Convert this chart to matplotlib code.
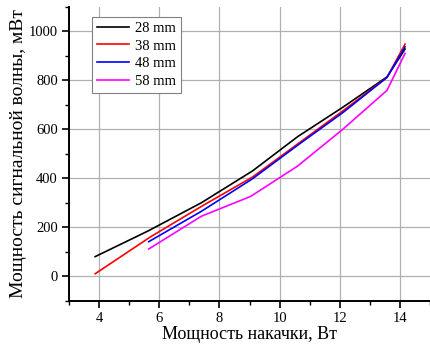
import matplotlib
matplotlib.use("Agg")
import matplotlib.pyplot as plt
from matplotlib.ticker import MultipleLocator

plt.rcParams['font.family'] = ['Liberation Serif', 'DejaVu Serif']
plt.rcParams['font.size'] = 10.5

# накачка, Вт и мощность сигнала, мВт
x28 = [3.87, 5.6, 7.4, 9.1, 10.6, 12.1, 13.57, 14.17]
y28 = [80, 183, 300, 430, 570, 690, 814, 928]

x38 = [3.87, 5.7, 7.4, 9.1, 10.6, 12.1, 13.57, 14.17]
y38 = [10, 160, 285, 405, 540, 675, 812, 948]

x48 = [5.65, 7.4, 9.1, 10.6, 12.1, 13.57, 14.17]
y48 = [141, 265, 398, 535, 668, 812, 937]

x58 = [5.65, 7.4, 9.04, 10.6, 12.1, 13.57, 14.17]
y58 = [111, 245, 326, 450, 600, 759, 910]

labels = ['28 mm', '38 mm', '48 mm', '58 mm']
colors = ['black', '#ff0000', '#0000ff', '#ff00ff']

fig = plt.figure(figsize=(4.3, 3.46), dpi=100)
ax = fig.add_axes([0.1605, 0.131, 0.8395, 0.849])

for xs, ys, lab, c in zip([x28, x38, x48, x58], [y28, y38, y48, y58], labels, colors):
    ax.plot(xs, ys, color=c, lw=1.2, label=lab)

ax.set_xlim(3, 15)
ax.set_ylim(-100, 1100)
ax.xaxis.set_major_locator(MultipleLocator(2))
ax.xaxis.set_minor_locator(MultipleLocator(1))
ax.yaxis.set_major_locator(MultipleLocator(200))
ax.yaxis.set_minor_locator(MultipleLocator(100))
ax.grid(True, which='major', color='#b0b0b0', lw=0.9)
ax.set_axisbelow(True)

ax.spines['top'].set_visible(False)
ax.spines['right'].set_visible(False)
ax.spines['left'].set_linewidth(1.4)
ax.spines['bottom'].set_linewidth(1.4)
ax.tick_params(which='major', direction='out', length=5, width=1.2, pad=3)
ax.tick_params(which='minor', direction='out', length=3, width=1.0)

ax.set_xlabel('Мощность накачки, Вт', fontsize=13, labelpad=1)
ax.set_ylabel('Мощность сигнальной волны, мВт', fontsize=14, labelpad=1)

leg = ax.legend(loc='upper left', bbox_to_anchor=(0.0645, 0.967), borderaxespad=0,
                fancybox=False, framealpha=1, edgecolor='#808080',
                handlelength=2.2, handletextpad=0.35, labelspacing=0.3,
                borderpad=0.35)
leg.get_frame().set_linewidth(0.8)

fig.savefig('out.png', dpi=100)
